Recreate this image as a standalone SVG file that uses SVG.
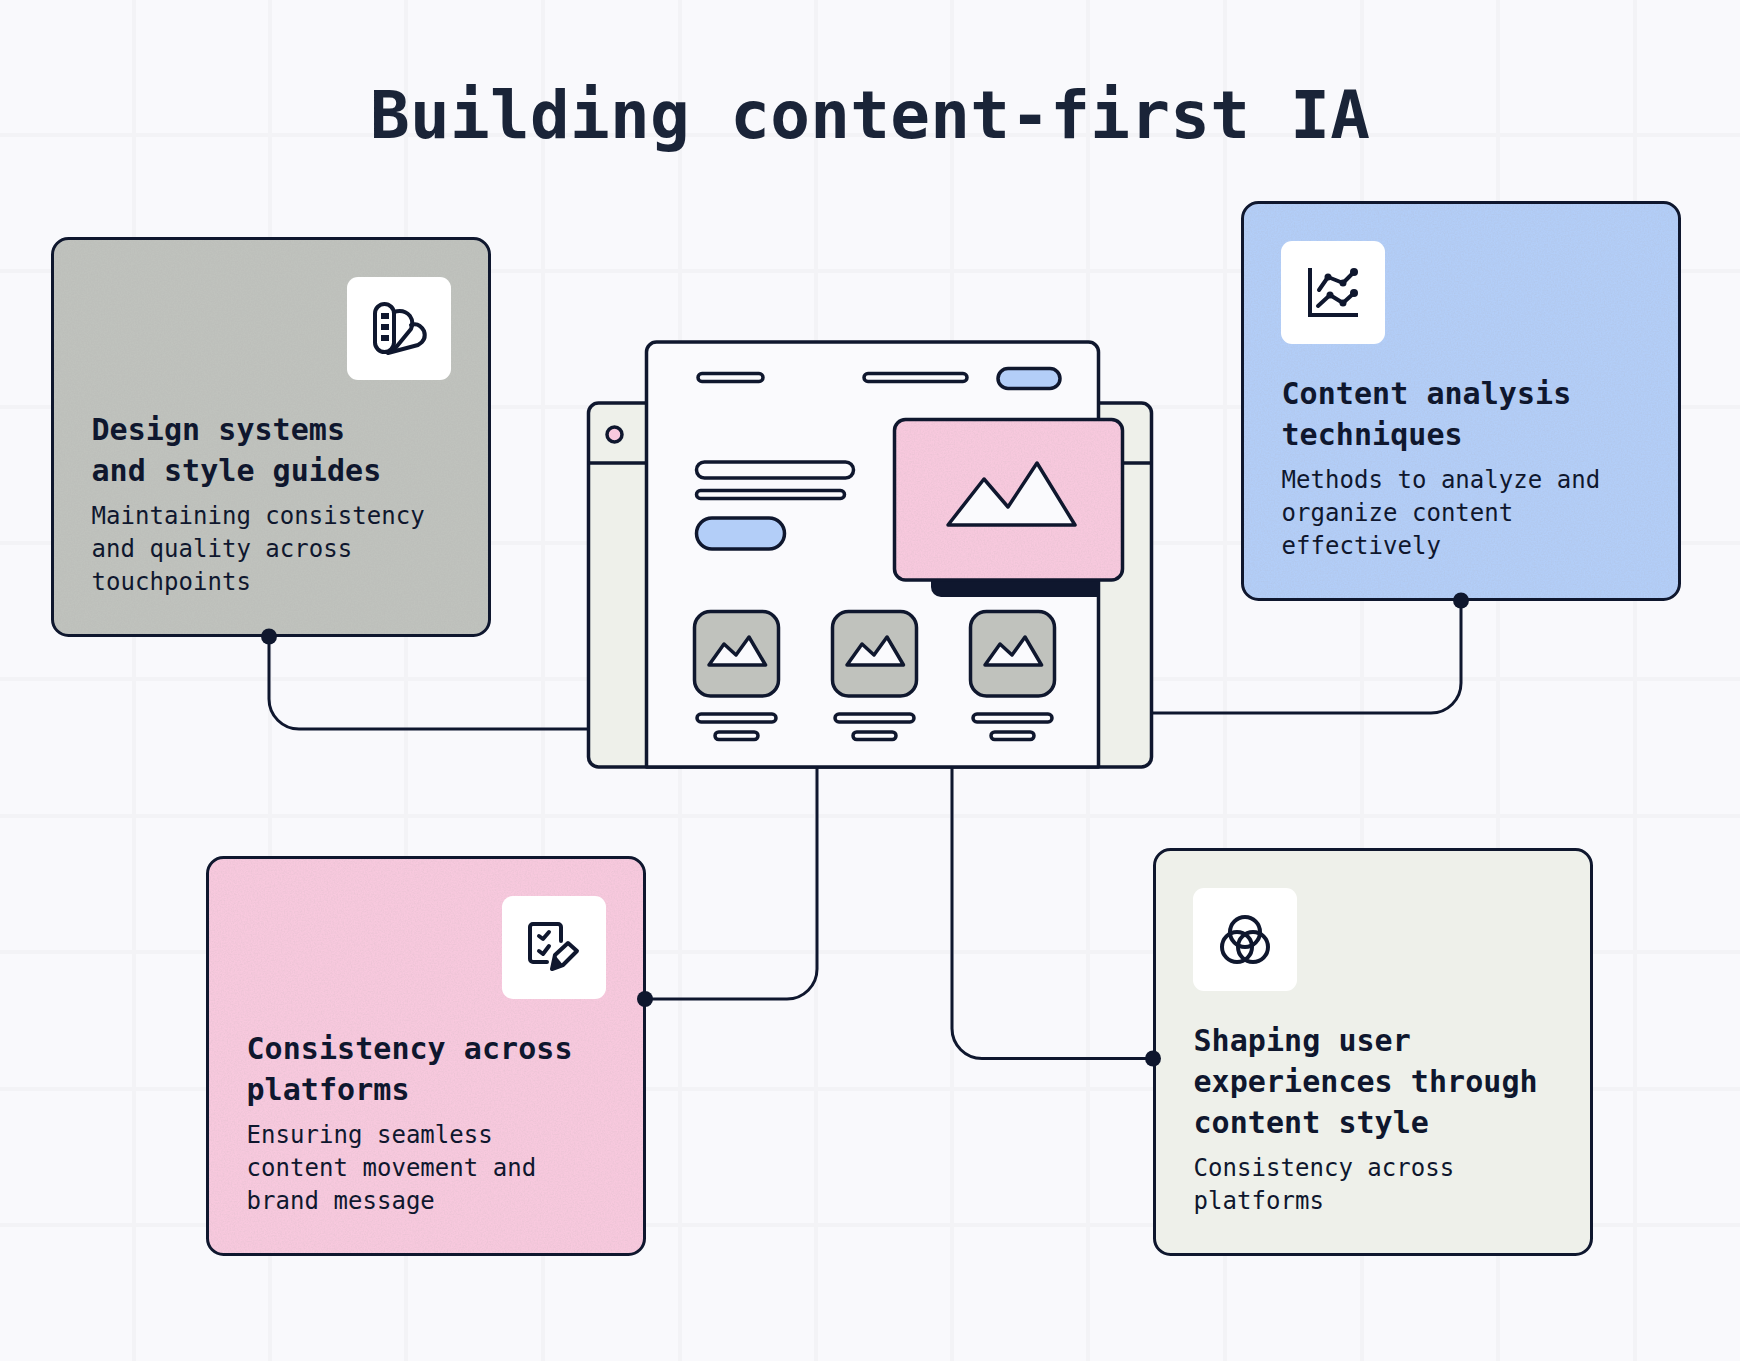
<svg xmlns="http://www.w3.org/2000/svg" width="1740" height="1361" viewBox="0 0 1740 1361">
<style>
.ln{fill:none;stroke:#0f172e;stroke-width:3.5;stroke-linecap:round;stroke-linejoin:round}
.o{stroke:#0f172e;stroke-width:3.5;stroke-linejoin:round}
.w{fill:#fafafd}
.edge{fill:none;stroke:#0f172e;stroke-width:3}
.box{fill:#fff}
.ink{fill:#0f172e}
.h{font:700 30px "DejaVu Sans Mono","Liberation Mono",monospace;fill:#0f172e;letter-spacing:.05px}
.d{font:400 24px "DejaVu Sans Mono","Liberation Mono",monospace;fill:#0f172e;letter-spacing:.04px}
.t{font:700 66px "DejaVu Sans Mono","Liberation Mono",monospace;fill:#1a2438;letter-spacing:.28px}
.grid line{stroke:#f3f3f6;stroke-width:4}
.conn{fill:none;stroke:#0f172e;stroke-width:3}
.gy{fill:#c0c2bd}.bl{fill:#b3cef8}.pk{fill:#f8c9de}.gn{fill:#eef0ea}
</style>
<defs>
<filter id="grain" x="0" y="0" width="100%" height="100%">
<feTurbulence type="fractalNoise" baseFrequency="0.7" numOctaves="2" seed="4" result="n"/>
<feColorMatrix in="n" type="matrix" values="0 0 0 0 0.4  0 0 0 0 0.4  0 0 0 0 0.4  0.35 0 0 0 -0.12" result="g"/>
<feComposite in="g" in2="SourceAlpha" operator="in" result="c"/>
<feMerge><feMergeNode in="SourceGraphic"/><feMergeNode in="c"/></feMerge>
</filter>
</defs>
<rect width="1740" height="1361" fill="#f9f9fc"/>
<g class="grid">
<line x1="134" y1="0" x2="134" y2="1361"/><line x1="270" y1="0" x2="270" y2="1361"/><line x1="406" y1="0" x2="406" y2="1361"/><line x1="543" y1="0" x2="543" y2="1361"/><line x1="680" y1="0" x2="680" y2="1361"/><line x1="816" y1="0" x2="816" y2="1361"/><line x1="952" y1="0" x2="952" y2="1361"/><line x1="1088" y1="0" x2="1088" y2="1361"/><line x1="1225" y1="0" x2="1225" y2="1361"/><line x1="1362" y1="0" x2="1362" y2="1361"/><line x1="1498" y1="0" x2="1498" y2="1361"/><line x1="1635" y1="0" x2="1635" y2="1361"/>
<line x1="0" y1="135" x2="1740" y2="135"/><line x1="0" y1="271" x2="1740" y2="271"/><line x1="0" y1="407" x2="1740" y2="407"/><line x1="0" y1="543" x2="1740" y2="543"/><line x1="0" y1="679" x2="1740" y2="679"/><line x1="0" y1="816" x2="1740" y2="816"/><line x1="0" y1="952" x2="1740" y2="952"/><line x1="0" y1="1089" x2="1740" y2="1089"/><line x1="0" y1="1225" x2="1740" y2="1225"/>
</g>
<text id="title" class="t" x="370" y="137.500">Building content-first IA</text>

<g id="node-design">
<rect class="gy" filter="url(#grain)" x="52.500" y="238.500" width="437" height="397" rx="16"/>
<rect class="edge" x="52.500" y="238.500" width="437" height="397" rx="16"/>
<rect class="box" x="347" y="277" width="104" height="103" rx="11"/>
<rect class="ln" x="375" y="304" width="19" height="48" rx="9.5" style="stroke-width:4"/>
<path class="ln" d="M394 312Q404 309 410 316Q414 322 411 329L393 351" style="stroke-width:4"/>
<path class="ln" d="M411 325Q419 322 424 331Q427 340 418 345L388 353" style="stroke-width:4"/>
<rect class="ink" x="381" y="313" width="8" height="6"/><rect class="ink" x="381" y="324" width="8" height="6"/><rect class="ink" x="381" y="335" width="8" height="6"/>
<text class="h" x="91.500" y="440">Design systems</text>
<text class="h" x="91.500" y="481">and style guides</text>
<text class="d" x="91.500" y="524">Maintaining consistency</text>
<text class="d" x="91.500" y="557">and quality across</text>
<text class="d" x="91.500" y="589.500">touchpoints</text>
</g>

<g id="node-analysis">
<rect class="bl" filter="url(#grain)" x="1242.500" y="202.500" width="437" height="397" rx="16"/>
<rect class="edge" x="1242.500" y="202.500" width="437" height="397" rx="16"/>
<rect class="box" x="1281" y="241" width="104" height="103" rx="11"/>
<path d="M1310 268V315H1358" fill="none" stroke="#0f172e" stroke-width="4"/>
<path class="ln" d="M1319 290L1328 277L1343 283L1354 272M1318 306L1330 295L1343 303L1354 293" style="stroke-width:4"/>
<circle class="ink" cx="1328" cy="277" r="3.5"/><circle class="ink" cx="1343" cy="283" r="3.5"/><circle class="ink" cx="1354" cy="272" r="4"/><circle class="ink" cx="1330" cy="295" r="3.5"/><circle class="ink" cx="1343" cy="303" r="3.5"/><circle class="ink" cx="1354" cy="293" r="4"/>
<text class="h" x="1281.500" y="404">Content analysis</text>
<text class="h" x="1281.500" y="445">techniques</text>
<text class="d" x="1281.500" y="488">Methods to analyze and</text>
<text class="d" x="1281.500" y="521">organize content</text>
<text class="d" x="1281.500" y="553.500">effectively</text>
</g>

<g id="node-platforms">
<rect class="pk" filter="url(#grain)" x="207.500" y="857.500" width="437" height="397" rx="16"/>
<rect class="edge" x="207.500" y="857.500" width="437" height="397" rx="16"/>
<rect class="box" x="502" y="896" width="104" height="103" rx="11"/>
<path class="ln" d="M561 941V927a3 3 0 0 0 -3 -3H533a3 3 0 0 0 -3 3V959a3 3 0 0 0 3 3H547" style="stroke-width:4"/>
<path class="ln" d="M539 936L543 939L549 932M539 951L543 954L549 946" style="stroke-width:4"/>
<path class="ln" d="M552 969L555 955L568 943L577 951L563 965Z" style="stroke-width:4"/>
<path class="ink" d="M552 969L555 955L563 965Z"/>
<text class="h" x="246.500" y="1059">Consistency across</text>
<text class="h" x="246.500" y="1100">platforms</text>
<text class="d" x="246.500" y="1143">Ensuring seamless</text>
<text class="d" x="246.500" y="1176">content movement and</text>
<text class="d" x="246.500" y="1208.500">brand message</text>
</g>

<g id="node-shaping">
<rect class="gn edge" style="fill:#eef0ea" x="1154.500" y="849.500" width="437" height="405" rx="16"/>
<rect class="box" x="1193" y="888" width="104" height="103" rx="11"/>
<circle class="ln" cx="1245" cy="932" r="15" style="stroke-width:4"/><circle class="ln" cx="1237" cy="947" r="15" style="stroke-width:4"/><circle class="ln" cx="1253" cy="947" r="15" style="stroke-width:4"/>
<text class="h" x="1193.500" y="1051">Shaping user</text>
<text class="h" x="1193.500" y="1092">experiences through</text>
<text class="h" x="1193.500" y="1133">content style</text>
<text class="d" x="1193.500" y="1176">Consistency across</text>
<text class="d" x="1193.500" y="1208.500">platforms</text>
</g>

<g id="connectors">
<path class="conn" d="M269 636V699a30 30 0 0 0 30 30H588"/>
<path class="conn" d="M1461 600V683a30 30 0 0 1 -30 30H1152"/>
<path class="conn" d="M645 999H787a30 30 0 0 0 30 -30V767"/>
<path class="conn" d="M1153 1058.500H982a30 30 0 0 1 -30 -30V767"/>
<circle class="ink" cx="269" cy="636.500" r="8"/>
<circle class="ink" cx="1461" cy="600.500" r="8"/>
<circle class="ink" cx="645" cy="999" r="8"/>
<circle class="ink" cx="1153" cy="1058.500" r="8"/>
</g>

<g id="node-window">
<rect class="o gn" x="588.500" y="403" width="563" height="364" rx="10"/>
<path class="ln" d="M589 463H647M1099 463H1151"/>
<circle class="o pk" cx="614.500" cy="434.500" r="7.500"/>
<path class="o w" d="M646.500 767V352a10 10 0 0 1 10 -10H1088.500a10 10 0 0 1 10 10V767Z"/>
<path class="ink" d="M931 575H1098V597H941a10 10 0 0 1 -10 -10Z"/>
<rect class="o w" x="698" y="373.500" width="65" height="8" rx="4"/>
<rect class="o w" x="864" y="373.500" width="103" height="8" rx="4"/>
<rect class="o bl" x="998" y="368.500" width="62" height="20" rx="10"/>
<rect class="o w" x="696.500" y="462" width="157" height="16" rx="8"/>
<rect class="o w" x="696.500" y="490.500" width="148" height="8" rx="4"/>
<rect class="o bl" x="696.500" y="518" width="88" height="31" rx="15.500"/>
<rect class="pk" filter="url(#grain)" x="894.500" y="419.500" width="228" height="160.500" rx="11"/>
<rect class="edge" style="stroke-width:3.5" x="894.500" y="419.500" width="228" height="160.500" rx="11"/>
<path class="o w" d="M948 525L984 479L1008 507L1037 463L1075 525Z"/>
<g id="thumb1">
<rect class="o gy" x="694.500" y="611.500" width="84" height="84.500" rx="16"/>
<path class="o w" d="M709 665L724 644L736 655L749 637L765.500 665Z"/>
<rect class="o w" x="697" y="714" width="79" height="8" rx="4"/>
<rect class="o w" x="715" y="732" width="43" height="7.500" rx="3.700"/>
</g>
<g id="thumb2">
<rect class="o gy" x="832.500" y="611.500" width="84" height="84.500" rx="16"/>
<path class="o w" d="M847 665L862 644L874 655L887 637L903.500 665Z"/>
<rect class="o w" x="835" y="714" width="79" height="8" rx="4"/>
<rect class="o w" x="853" y="732" width="43" height="7.500" rx="3.700"/>
</g>
<g id="thumb3">
<rect class="o gy" x="970.500" y="611.500" width="84" height="84.500" rx="16"/>
<path class="o w" d="M985 665L1000 644L1012 655L1025 637L1041.500 665Z"/>
<rect class="o w" x="973" y="714" width="79" height="8" rx="4"/>
<rect class="o w" x="991" y="732" width="43" height="7.500" rx="3.700"/>
</g>
</g>
</svg>
